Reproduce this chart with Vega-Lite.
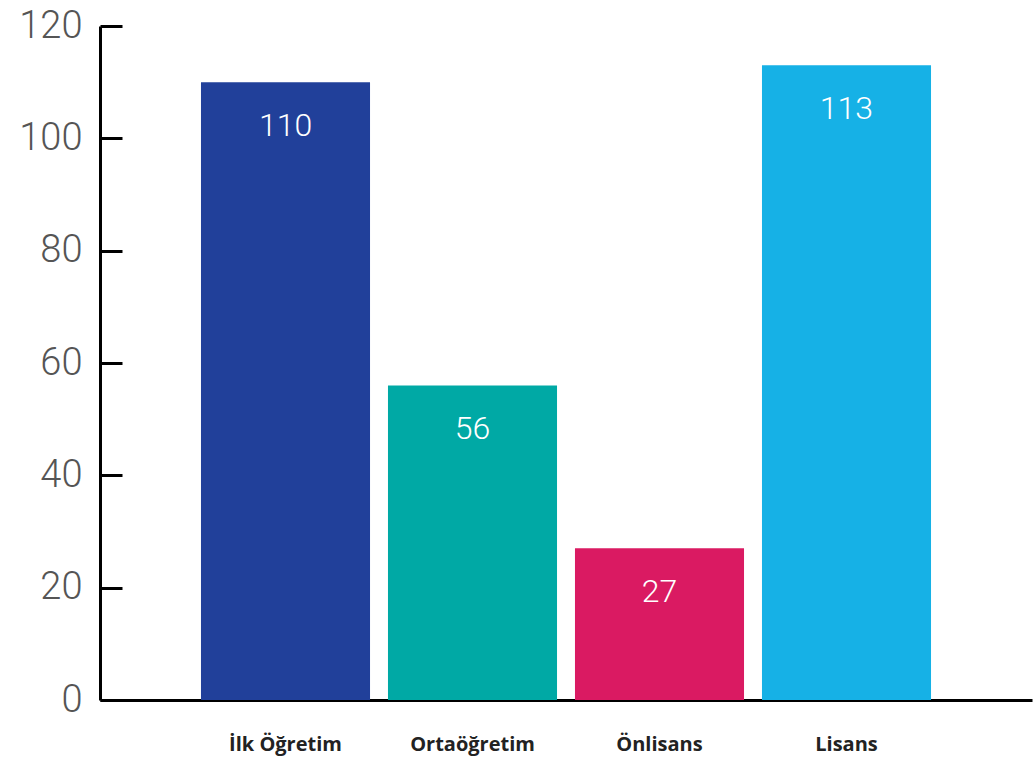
{
  "$schema": "https://vega.github.io/schema/vega-lite/v6.json",
  "width": 932,
  "height": 674,
  "autosize": "none",
  "padding": {"left": 100, "top": 26, "right": 3, "bottom": 65},
  "background": "white",
  "config": {"view": {"stroke": null}},
  "data": {"values": [
    {"kategori": "İlk Öğretim", "deger": 110},
    {"kategori": "Ortaöğretim", "deger": 56},
    {"kategori": "Önlisans", "deger": 27},
    {"kategori": "Lisans", "deger": 113}
  ]},
  "encoding": {
    "x": {"field": "kategori", "type": "nominal", "sort": null,
      "scale": {"paddingInner": 0.096, "paddingOuter": 0.54},
      "axis": {"title": null, "labelAngle": 0, "ticks": false, "domainColor": "#000", "domainWidth": 3,
        "labelFont": "Open Sans", "labelFontWeight": "bold", "labelFontSize": 20, "labelColor": "#222",
        "labelPadding": 34}},
    "y": {"field": "deger", "type": "quantitative",
      "scale": {"domain": [0, 120], "nice": false},
      "axis": {"title": null, "values": [0, 20, 40, 60, 80, 100, 120], "grid": false,
        "domainColor": "#000", "domainWidth": 3, "tickColor": "#000", "tickWidth": 3, "tickSize": -22,
        "labelFont": "Roboto", "labelFontWeight": 300, "labelFontSize": 38, "labelColor": "#555",
        "labelPadding": 40}}
  },
  "layer": [
    {"mark": {"type": "bar"},
      "encoding": {"color": {"field": "kategori", "type": "nominal", "legend": null,
        "scale": {"domain": ["İlk Öğretim", "Ortaöğretim", "Önlisans", "Lisans"],
                  "range": ["#21409A", "#00A9A5", "#DA1A62", "#16B1E6"]}}}},
    {"mark": {"type": "text", "color": "white", "font": "Roboto", "fontWeight": 300, "fontSize": 32, "baseline": "middle", "dy": 44},
      "encoding": {"text": {"field": "deger", "type": "quantitative"}}}
  ]
}
